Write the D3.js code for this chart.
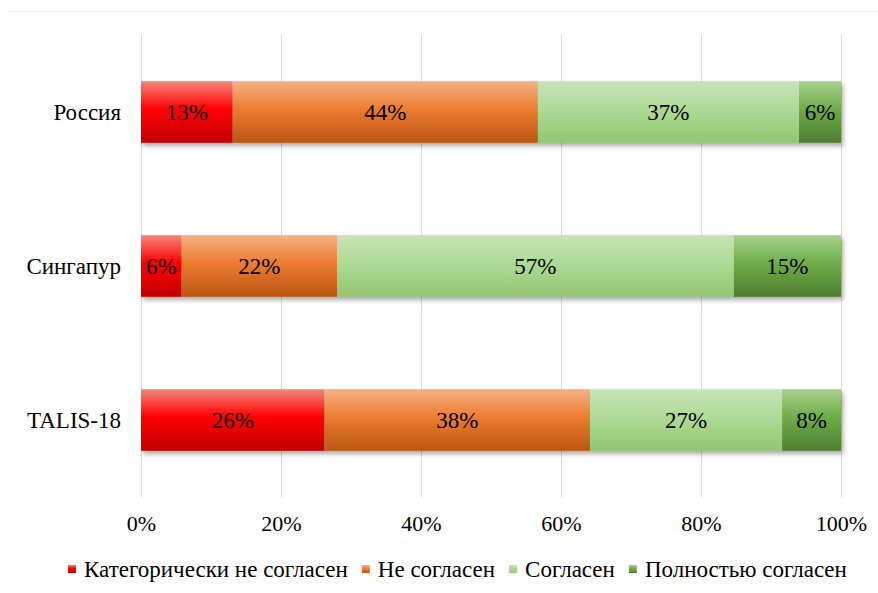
<!DOCTYPE html>
<html>
<head>
<meta charset="utf-8">
<script src="https://cdn.jsdelivr.net/npm/d3@7"></script>
<style>
  body { margin: 0; background: #fff; }
</style>
</head>
<body>
<div id="chart"></div>
<script>
const categories = ["Россия", "Сингапур", "TALIS-18"]
const seriesNames = ["Категорически не согласен", "Не согласен", "Согласен", "Полностью согласен"]
const values = [
    [13.1, 43.6, 37.3, 6.0],
    [5.8, 22.2, 56.7, 15.3],
    [26.2, 37.9, 27.4, 8.4]
]
const tickValues = [0, 20, 40, 60, 80, 100]

const W = 878, H = 593
const margin = { left: 141, right: 37, top: 35, bottom: 96 }
const FONT = '"Liberation Serif", "Times New Roman", serif'

// gradient stops per series: top, middle, bottom
const colors = [
    ["#f4877a", "#ff0000", "#c00000"],
    ["#f4b183", "#ed7d31", "#b85612"],
    ["#c9e3b8", "#addb95", "#93c572"],
    ["#a9d18e", "#70ad47", "#4e7d32"]
]

const svg = d3.select("#chart").append("svg")
    .attr("width", W)
    .attr("height", H)
    .style("font-family", FONT)

const defs = svg.append("defs")
colors.forEach((c, i) => {
    const g = defs.append("linearGradient")
        .attr("id", "grad" + i)
        .attr("x1", 0).attr("y1", 0).attr("x2", 0).attr("y2", 1)
    g.append("stop").attr("offset", "0%").attr("stop-color", c[0])
    g.append("stop").attr("offset", "45%").attr("stop-color", c[1])
    g.append("stop").attr("offset", "100%").attr("stop-color", c[2])
})
const shadow = defs.append("filter").attr("id", "shadow")
    .attr("x", "-5%").attr("y", "-20%").attr("width", "110%").attr("height", "150%")
shadow.append("feDropShadow")
    .attr("dx", 2).attr("dy", 3).attr("stdDeviation", 2.5)
    .attr("flood-color", "#000").attr("flood-opacity", 0.35)

// thin border line at top
svg.append("line")
    .attr("x1", 7).attr("x2", W).attr("y1", 11.5).attr("y2", 11.5)
    .style("stroke", "#ececec")

const x = d3.scaleLinear().domain([0, 100]).range([margin.left, W - margin.right])
const y = d3.scaleBand().domain(categories)
    .range([margin.top, H - margin.bottom])
    .paddingInner(0.6).paddingOuter(0.3)

/* GRID */
svg.append("g").selectAll("line")
    .data(tickValues)
    .join("line")
    .attr("x1", d => Math.round(x(d)) + 0.5)
    .attr("x2", d => Math.round(x(d)) + 0.5)
    .attr("y1", margin.top)
    .attr("y2", H - margin.bottom)
    .style("stroke", "#d9d9d9")

/* AXIS */
const xAxis = svg.append("g")
    .attr("transform", `translate(0,${H - margin.bottom})`)
    .call(d3.axisBottom(x).tickValues(tickValues).tickFormat(d => d + "%").tickSize(0).tickPadding(18))
xAxis.attr("font-family", null).attr("font-size", null)
xAxis.select(".domain").remove()
xAxis.selectAll("text")
    .style("font-family", FONT)
    .style("font-size", "22px")
    .attr("fill", "#000")

svg.append("g").selectAll("text")
    .data(categories)
    .join("text")
    .attr("x", 121)
    .attr("y", d => y(d) + y.bandwidth() / 2)
    .attr("dy", "0.35em")
    .attr("text-anchor", "end")
    .style("font-family", FONT)
    .style("font-size", "23px")
    .text(d => d)

/* BARS */
const rows = categories.map((cat, ci) => {
    const total = d3.sum(values[ci])
    let acc = 0
    return values[ci].map((v, si) => {
        const p = v / total * 100
        const seg = { cat, si, v, x0: acc, x1: acc + p }
        acc += p
        return seg
    })
})

const barG = svg.append("g")
rows.forEach(row => {
    const g = barG.append("g").attr("filter", "url(#shadow)")
    g.selectAll("rect")
        .data(row)
        .join("rect")
        .attr("x", d => x(d.x0))
        .attr("width", d => x(d.x1) - x(d.x0))
        .attr("y", d => y(d.cat))
        .attr("height", y.bandwidth())
        .attr("fill", d => `url(#grad${d.si})`)
})

barG.append("g").selectAll("text")
    .data(rows.flat())
    .join("text")
    .attr("x", d => (x(d.x0) + x(d.x1)) / 2)
    .attr("y", d => y(d.cat) + y.bandwidth() / 2)
    .attr("dy", "0.35em")
    .attr("text-anchor", "middle")
    .style("font-family", FONT)
    .style("font-size", "23px")
    .text(d => Math.round(d.v) + "%")

/* LEGEND */
const legend = svg.append("g").attr("transform", `translate(0,569)`)
let lx = 68
seriesNames.forEach((name, i) => {
    legend.append("rect")
        .attr("x", lx).attr("y", -4)
        .attr("width", 8).attr("height", 8)
        .attr("fill", `url(#grad${i})`)
    const t = legend.append("text")
        .attr("x", lx + 16)
        .attr("y", 0)
        .attr("dy", "0.35em")
        .style("font-family", FONT)
        .style("font-size", "23px")
        .text(name)
    lx += 16 + t.node().getComputedTextLength() + 14
})
</script>
</body>
</html>
